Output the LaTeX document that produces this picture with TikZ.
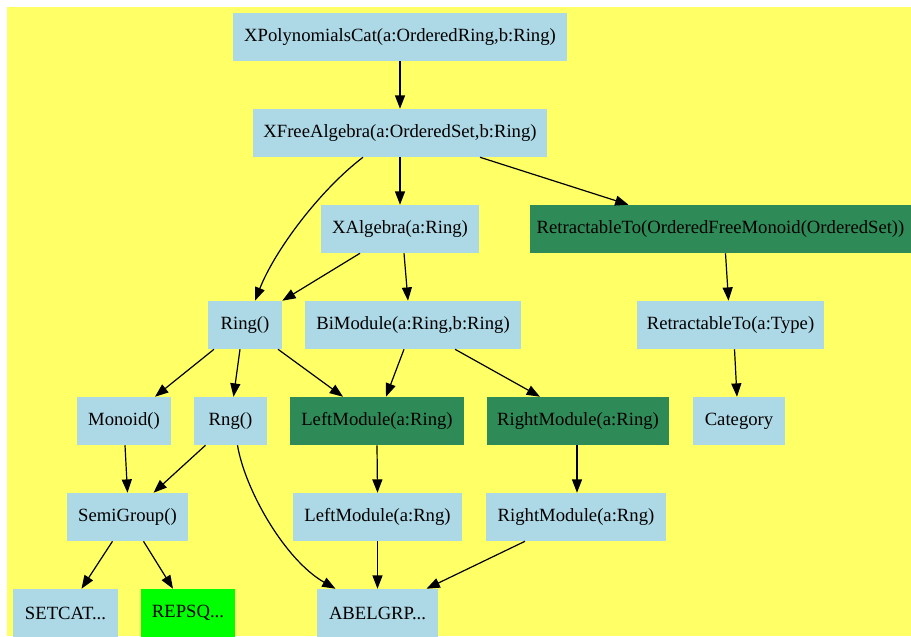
\documentclass[tikz,border=0pt]{standalone}
\usepackage{fontspec}
\setmainfont{Liberation Serif}
\usetikzlibrary{arrows.meta,calc}
\definecolor{bgyellow}{HTML}{FFFF66}
\definecolor{lblue}{HTML}{ADD8E6}
\definecolor{sgreen}{HTML}{2E8B57}
\definecolor{bgreen}{HTML}{00FF00}
\begin{document}
\begin{tikzpicture}[x=0.75pt,y=-0.75pt,
  box/.style={fill=lblue,draw=none,minimum height=36pt,minimum width=#1*0.75pt,inner sep=0pt,
    font=\fontsize{14}{16}\selectfont},
  gbox/.style={box=#1,fill=sgreen},
  lbox/.style={box=#1,fill=bgreen},
  edge/.style={-{Triangle[length=10pt,width=7.5pt]},line width=0.9pt,black}]
\useasboundingbox (0,0) rectangle (911,636);
\fill[bgyellow] (7,7) rectangle (911,636);
% nodes
\node[box=334] (xpoly) at (400,37) {XPolynomialsCat(a:OrderedRing,b:Ring)};
\node[box=294] (xfree) at (400,133) {XFreeAlgebra(a:OrderedSet,b:Ring)};
\node[box=158] (xalg) at (400,229) {XAlgebra(a:Ring)};
\node[gbox=381] (retr) at (720.5,229) {RetractableTo(OrderedFreeMonoid(OrderedSet))};
\node[box=74] (ring) at (245,325) {Ring()};
\node[box=216] (bimod) at (413,325) {BiModule(a:Ring,b:Ring)};
\node[box=187] (rtype) at (730.5,325) {RetractableTo(a:Type)};
\node[box=94] (monoid) at (124,421) {Monoid()};
\node[box=73] (rng) at (230.5,421) {Rng()};
\node[gbox=174] (lmod) at (377,421) {LeftModule(a:Ring)};
\node[gbox=182] (rmod) at (578,421) {RightModule(a:Ring)};
\node[box=92] (cat) at (739,421) {Category};
\node[box=121] (semi) at (127.5,517) {SemiGroup()};
\node[box=169] (lmodr) at (377.5,517) {LeftModule(a:Rng)};
\node[box=180] (rmodr) at (576,517) {RightModule(a:Rng)};
\node[box=105] (setcat) at (65.5,613) {SETCAT...};
\node[lbox=94] (repsq) at (188,613) {REPSQ...};
\node[box=121] (abel) at (377.5,613) {ABELGRP...};
% edges
\draw[edge] (xpoly.south) -- (xfree.north);
\draw[edge] (xfree.south) -- (xalg.north);
\draw[edge] ($(xfree.south)+(-37,0)$) .. controls (320,190) and (275,250) .. ($(ring.north)+(10,0)$);
\draw[edge] ($(xfree.south)+(80,0)$) -- ($(retr.north)+(-92,0)$);
\draw[edge] ($(xalg.south)+(-40,0)$) -- ($(ring.north east)+(0,0)$);
\draw[edge] ($(xalg.south)+(4,0)$) -- ($(bimod.north)+(-5,0)$);
\draw[edge] ($(retr.south)+(5,0)$) -- ($(rtype.north)+(-2,0)$);
\draw[edge] ($(rtype.south)+(4,0)$) -- ($(cat.north)+(-2,0)$);
\draw[edge] ($(ring.south)+(-31,0)$) -- ($(monoid.north)+(31,0)$);
\draw[edge] ($(ring.south)+(-5,0)$) -- ($(rng.north)+(3,0)$);
\draw[edge] ($(ring.south)+(33,0)$) -- ($(lmod.north)+(-34,0)$);
\draw[edge] ($(bimod.south)+(-9,0)$) -- ($(lmod.north)+(9,0)$);
\draw[edge] ($(bimod.south)+(42,0)$) -- ($(rmod.north)+(-38,0)$);
\draw[edge] ($(monoid.south)+(1,0)$) -- ($(semi.north)+(0,0)$);
\draw[edge] ($(rng.south)+(-25,0)$) -- ($(semi.north)+(26,0)$);
\draw[edge] ($(rng.south)+(7,0)$) .. controls (245,490) and (285,560) .. ($(abel.north)+(-42,0)$);
\draw[edge] (lmod.south) -- (lmodr.north);
\draw[edge] ($(rmod.south)+(-1,0)$) -- ($(rmodr.north)+(1,0)$);
\draw[edge] ($(semi.south)+(-15,0)$) -- ($(setcat.north)+(16,0)$);
\draw[edge] ($(semi.south)+(16,0)$) -- ($(repsq.north)+(-15,0)$);
\draw[edge] (lmodr.south) -- (abel.north);
\draw[edge] ($(rmodr.south)+(-51,0)$) -- ($(abel.north)+(49,0)$);
\end{tikzpicture}
\end{document}
